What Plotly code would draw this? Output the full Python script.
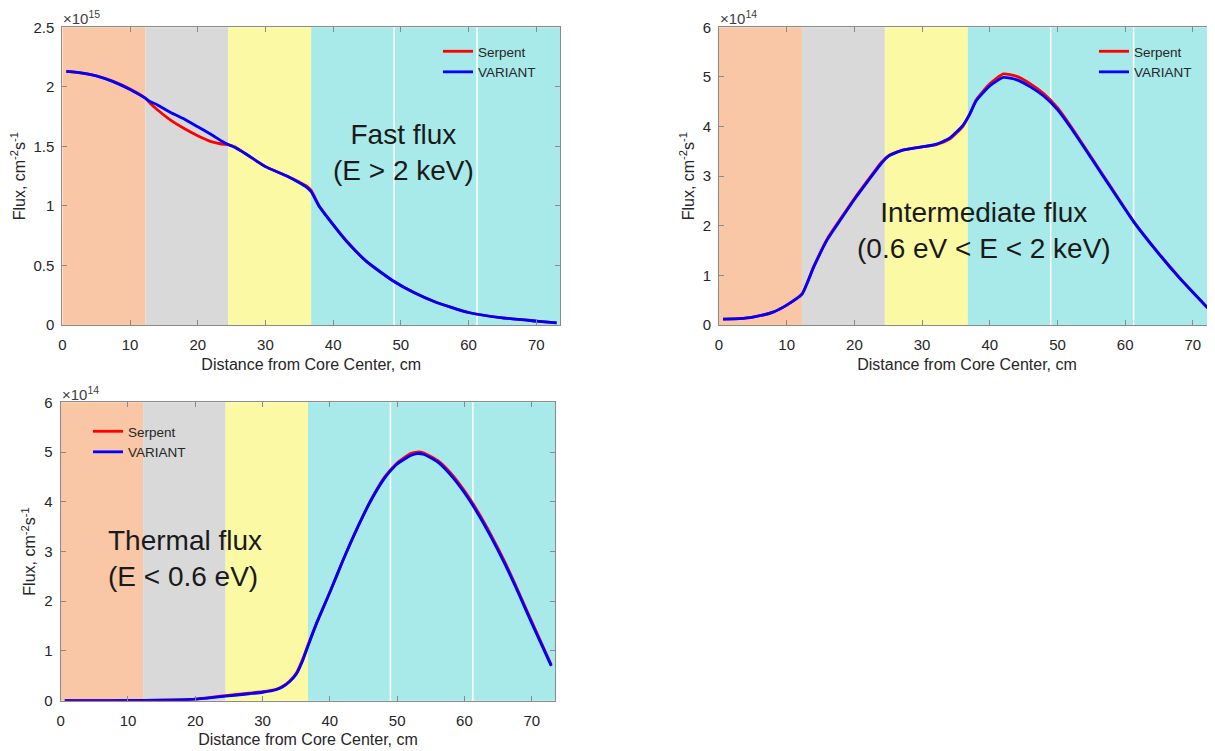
import plotly.graph_objects as go

# ---------------- data ----------------
# Region boundaries along the radius (cm) and their fill colours
zone_edges = [0, 12.25, 24.5, 36.75, 73.5]
zone_colors = ["#FAC7A6", "#D9D9D9", "#FCF9A5", "#A8EAE9"]
assembly_lines = [49.0, 61.25]

# Fast flux (x 1e15)
fast_x = [0.6, 3, 5, 7.5, 10, 12.25, 13, 14, 16, 18, 20, 22, 23.5, 24.5, 25.5, 27, 30,
          33, 35, 36, 36.75, 38, 40, 42, 45, 49, 52, 55, 60, 65, 70, 73]
fast_variant = [2.13, 2.116, 2.092, 2.044, 1.978, 1.905, 1.875, 1.85, 1.785, 1.73, 1.665,
                1.60, 1.545, 1.515, 1.49, 1.44, 1.33, 1.255, 1.195, 1.16, 1.12, 0.99,
                0.84, 0.70, 0.53, 0.365, 0.27, 0.195, 0.105, 0.06, 0.033, 0.018]
fast_serpent = [2.13, 2.116, 2.093, 2.046, 1.982, 1.905, 1.86, 1.81, 1.72, 1.65, 1.59,
                1.54, 1.52, 1.515, 1.495, 1.44, 1.33, 1.255, 1.20, 1.17, 1.13, 0.995,
                0.845, 0.705, 0.53, 0.365, 0.27, 0.195, 0.105, 0.06, 0.033, 0.018]

# Intermediate flux (x 1e14)
int_x = [0.6, 3, 5, 8, 10, 12.25, 14, 16, 18, 20, 22, 24, 25, 27, 30, 32, 34, 36, 37,
         38, 40, 42, 44, 46, 48, 50, 52, 55, 58, 61.25, 65, 68, 70, 72.75]
int_variant = [0.12, 0.13, 0.16, 0.26, 0.40, 0.62, 1.17, 1.72, 2.13, 2.53, 2.90, 3.26,
               3.40, 3.52, 3.59, 3.64, 3.76, 4.02, 4.24, 4.52, 4.82, 4.99, 4.94, 4.80,
               4.61, 4.34, 3.97, 3.36, 2.74, 2.08, 1.43, 0.95, 0.66, 0.26]
int_serpent = [0.12, 0.13, 0.16, 0.26, 0.40, 0.62, 1.18, 1.74, 2.15, 2.55, 2.92, 3.28,
               3.41, 3.52, 3.59, 3.63, 3.74, 4.00, 4.24, 4.54, 4.86, 5.06, 5.01, 4.86,
               4.66, 4.38, 4.00, 3.38, 2.76, 2.09, 1.44, 0.96, 0.66, 0.26]

# Thermal flux (x 1e14)
th_x = [0.6, 5, 10, 15, 20, 24.5, 28, 30, 32, 33, 34, 35, 36, 36.75, 38, 40, 42, 44,
        46, 48, 49, 50, 52, 53, 54, 56, 58, 60, 62, 64, 66, 68, 70, 72.9]
th_variant = [0.0, 0.0, 0.005, 0.01, 0.03, 0.09, 0.14, 0.17, 0.22, 0.28, 0.38, 0.53,
              0.82, 1.10, 1.55, 2.18, 2.84, 3.45, 4.00, 4.45, 4.62, 4.76, 4.93, 4.97,
              4.95, 4.80, 4.53, 4.18, 3.76, 3.28, 2.75, 2.17, 1.56, 0.70]
th_serpent = [0.0, 0.0, 0.005, 0.01, 0.03, 0.10, 0.15, 0.18, 0.23, 0.29, 0.39, 0.55,
              0.85, 1.12, 1.55, 2.18, 2.84, 3.45, 4.01, 4.47, 4.64, 4.78, 4.97, 5.00,
              4.98, 4.83, 4.57, 4.22, 3.80, 3.32, 2.79, 2.20, 1.59, 0.72]

x_ticks = [0, 10, 20, 30, 40, 50, 60, 70]
fast_yticks = [0, 0.5, 1, 1.5, 2, 2.5]
int_yticks = [0, 1, 2, 3, 4, 5, 6]
th_yticks = [0, 1, 2, 3, 4, 5, 6]

# ---------------- figure ----------------
FONT = "Arial, 'Liberation Sans', sans-serif"
AX = "#8a8a8a"
TXT = "#262626"

# page body has an 8px margin; the figure fills the rest of the window
OFF = 8
W, H = 1215 - OFF, 751 - OFF


def xp(p):
    return (p - OFF) / W


def yp(p):
    return 1 - (p - OFF) / H


fig = go.Figure()

panels = [
    ("x", "y", "legend", fast_x, fast_serpent, fast_variant),
    ("x2", "y2", "legend2", int_x, int_serpent, int_variant),
    ("x3", "y3", "legend3", th_x, th_serpent, th_variant),
]
for xa, ya, lg, xs, ser, var in panels:
    fig.add_trace(go.Scatter(x=xs, y=ser, mode="lines", name="Serpent",
                             line=dict(color="#FF0000", width=2.8, shape="spline", smoothing=0.5),
                             xaxis=xa, yaxis=ya, legend=lg))
    fig.add_trace(go.Scatter(x=xs, y=var, mode="lines", name="VARIANT",
                             line=dict(color="#0000FF", width=2.8, shape="spline", smoothing=0.5),
                             xaxis=xa, yaxis=ya, legend=lg))

# background zones
for xa, ya in [("x", "y"), ("x2", "y2"), ("x3", "y3")]:
    for i, col in enumerate(zone_colors):
        fig.add_shape(type="rect", xref=xa, yref=f"{ya} domain",
                      x0=zone_edges[i], x1=zone_edges[i + 1], y0=0, y1=1,
                      fillcolor=col, line_width=0, layer="below")
    for xv in assembly_lines:
        fig.add_shape(type="line", xref=xa, yref=f"{ya} domain",
                      x0=xv, x1=xv, y0=0, y1=1,
                      line=dict(color="white", width=1.5), layer="below")


def xaxis_cfg(dom, rng, anchor, mirror="ticks"):
    return dict(domain=dom, range=rng, anchor=anchor, tickvals=x_ticks, automargin=False,
                showline=True, linecolor=AX, linewidth=1, mirror=mirror,
                ticks="inside", ticklen=5, tickcolor=AX, showgrid=False, zeroline=False,
                tickfont=dict(size=15, color=TXT, family=FONT), ticklabelstandoff=6,
                title=dict(text="Distance from Core Center, cm",
                           font=dict(size=16, color=TXT, family=FONT), standoff=6))


def yaxis_cfg(dom, rng, ticks, anchor, mirror="ticks"):
    return dict(domain=dom, range=rng, anchor=anchor, tickvals=ticks, automargin=False,
                showline=True, linecolor=AX, linewidth=1, mirror=mirror,
                ticks="inside", ticklen=5, tickcolor=AX, showgrid=False, zeroline=False,
                tickfont=dict(size=15, color=TXT, family=FONT), ticklabelstandoff=4,
                title=dict(text="Flux, cm<sup>-2</sup>s<sup>-1</sup>",
                           font=dict(size=16, color=TXT, family=FONT), standoff=4))


top_dom = [yp(325), yp(27.3)]
bot_dom = [yp(700.7), yp(402.3)]

fig.update_layout(
    width=W, height=H,
    margin=dict(l=0, r=0, t=0, b=0, autoexpand=False),
    paper_bgcolor="white", plot_bgcolor="white",
    font=dict(family=FONT, color=TXT),
    xaxis=xaxis_cfg([xp(62.3), xp(560)], [0, 73.5], "y"),
    yaxis=yaxis_cfg(top_dom, [0, 2.5], fast_yticks, "x"),
    xaxis2=xaxis_cfg([xp(719), 1.0], [0, 73.27], "y2"),
    yaxis2=yaxis_cfg(top_dom, [0, 6], int_yticks, "x2", mirror=False),
    xaxis3=xaxis_cfg([xp(60.7), xp(555.3)], [0, 73.5], "y3"),
    yaxis3=yaxis_cfg(bot_dom, [0, 6], th_yticks, "x3"),
    showlegend=True,
)

leg_common = dict(xanchor="left", yanchor="top", bgcolor="rgba(0,0,0,0)", borderwidth=0,
                  font=dict(size=13.5, color=TXT, family=FONT), tracegroupgap=0, itemwidth=30)
fig.update_layout(
    legend=dict(x=xp(438), y=yp(36), **leg_common),
    legend2=dict(x=xp(1094), y=yp(36), **leg_common),
    legend3=dict(x=xp(88), y=yp(416), **leg_common),
)

# multiplier labels
for xl, yt, txt in [(62.3, 28.5, "\u00d710<sup>15</sup>"),
                    (719, 28.5, "\u00d710<sup>14</sup>"),
                    (60.7, 403.5, "\u00d710<sup>14</sup>")]:
    fig.add_annotation(x=xp(xl), y=yp(yt), xref="paper", yref="paper",
                       xanchor="left", yanchor="bottom", text=txt, showarrow=False,
                       borderpad=0, font=dict(size=15, color="#404040", family=FONT))

# panel labels
fig.add_annotation(x=xp(403), y=yp(152), xref="paper", yref="paper",
                   xanchor="center", yanchor="middle",
                   text="Fast flux<br>(E > 2 keV)", showarrow=False, align="center",
                   font=dict(size=28, color="#1a1a1a", family=FONT))
fig.add_annotation(x=xp(984), y=yp(230), xref="paper", yref="paper",
                   xanchor="center", yanchor="middle",
                   text="Intermediate flux<br>(0.6 eV < E < 2 keV)", showarrow=False,
                   align="center", font=dict(size=28, color="#1a1a1a", family=FONT))
fig.add_annotation(x=xp(106), y=yp(558), xref="paper", yref="paper",
                   xanchor="left", yanchor="middle",
                   text="Thermal flux<br>(E < 0.6 eV)", showarrow=False, align="left",
                   font=dict(size=28, color="#1a1a1a", family=FONT))

fig.write_html("out.html")
